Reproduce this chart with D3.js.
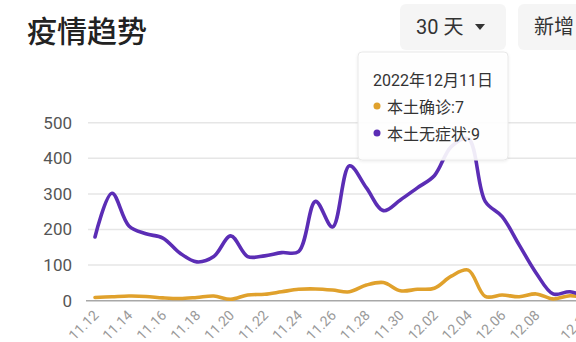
<!DOCTYPE html>
<html>
<head>
<meta charset="utf-8">
<script src="https://cdn.jsdelivr.net/npm/d3@7"></script>
<style>
  html, body { margin: 0; padding: 0; background: #fff; overflow: hidden; }
  svg { display: block; font-family: Roboto, "Noto Sans CJK SC", sans-serif; }
</style>
</head>
<body>
<svg id="chart" width="576" height="342"></svg>
<script>
// 30-day trend: local confirmed vs. local asymptomatic cases
const dates = ["11.12","11.13","11.14","11.15","11.16","11.17","11.18","11.19","11.20","11.21",
               "11.22","11.23","11.24","11.25","11.26","11.27","11.28","11.29","11.30","12.01",
               "12.02","12.03","12.04","12.05","12.06","12.07","12.08","12.09","12.10","12.11"];
const confirmed = [9, 11, 13, 12, 8, 6, 9, 13, 4, 16,
                   18, 25, 32, 33, 30, 25, 44, 51, 28, 32,
                   35, 69, 86, 12, 16, 11, 19, 5, 14, 7];
const asymptomatic = [179, 302, 210, 188, 176, 134, 109, 124, 182, 124,
                      126, 135, 138, 279, 207, 379, 317, 253, 283, 317,
                      351, 433, 455, 279, 236, 157, 78, 19, 25, 9];
const yTicks = [0, 100, 200, 300, 400, 500];
const xLabelDates = ["11.12","11.14","11.16","11.18","11.20","11.22","11.24","11.26","11.28",
                     "11.30","12.02","12.04","12.06","12.08","12.11"];
const series = [
  { name: "本土确诊", values: confirmed, color: "#e0a12c" },
  { name: "本土无症状", values: asymptomatic, color: "#5b2db5" }
];

const svg = d3.select("#chart");

const x = d3.scalePoint().domain(dates).range([95, 587]);
const y = d3.scaleLinear().domain([0, 500]).range([300.7, 122.7]);

// header: title and two selector buttons
svg.append("text")
  .attr("x", 27).attr("y", 42)
  .attr("font-size", 30).attr("font-weight", 500)
  .attr("fill", "#222")
  .attr("font-family", "'Noto Sans CJK SC', sans-serif")
  .text("疫情趋势");

svg.append("rect").attr("x", 400).attr("y", 4).attr("width", 106).attr("height", 46)
  .attr("rx", 6).attr("fill", "#f5f5f5");
svg.append("text").attr("x", 416).attr("y", 34)
  .attr("font-size", 20).attr("fill", "#333").text("30 天");
svg.append("path")
  .attr("d", d3.line()([[475, 24], [485, 24], [480, 30]]) + "Z")
  .attr("fill", "#333");

svg.append("rect").attr("x", 518).attr("y", 4).attr("width", 106).attr("height", 46)
  .attr("rx", 6).attr("fill", "#f5f5f5");
svg.append("text").attr("x", 534).attr("y", 34)
  .attr("font-size", 20).attr("fill", "#333")
  .attr("font-family", "'Noto Sans CJK SC', sans-serif").text("新增");

// y grid and labels
const grid = svg.append("g");
grid.selectAll("line.grid")
  .data(yTicks.filter(d => d > 0))
  .join("line")
  .attr("class", "grid")
  .attr("x1", 88).attr("x2", 600)
  .attr("y1", d => y(d)).attr("y2", d => y(d))
  .attr("stroke", "#e6e6e6").attr("stroke-width", 1.5);

grid.append("line")
  .attr("x1", 86).attr("x2", 600)
  .attr("y1", y(0)).attr("y2", y(0))
  .attr("stroke", "#a8a8a8").attr("stroke-width", 1.5);

grid.selectAll("text.ylab")
  .data(yTicks)
  .join("text")
  .attr("class", "ylab")
  .attr("x", 72).attr("y", d => y(d))
  .attr("dy", "0.35em")
  .attr("text-anchor", "end")
  .attr("font-size", 17).attr("fill", "#555")
  .text(d => d);

// rotated x labels
svg.append("g").selectAll("text")
  .data(xLabelDates)
  .join("text")
  .attr("transform", d => `translate(${x(d) + 1},${y(0) + 12}) rotate(-45)`)
  .attr("text-anchor", "end")
  .attr("dy", "0.35em")
  .attr("font-size", 14).attr("fill", "#999")
  .text(d => d);

// series lines
const line = d3.line()
  .x((d, i) => x(dates[i]))
  .y(d => y(d))
  .curve(d3.curveCatmullRom.alpha(0.5));

svg.append("g").selectAll("path")
  .data(series)
  .join("path")
  .attr("d", s => line(s.values))
  .attr("fill", "none")
  .attr("stroke", s => s.color)
  .attr("stroke-width", 3.6)
  .attr("stroke-linejoin", "round")
  .attr("stroke-linecap", "round");

// tooltip for the last day
const last = dates.length - 1;
const tip = svg.append("g");
const defs = svg.append("defs");
const f = defs.append("filter").attr("id", "shadow").attr("x", "-10%").attr("y", "-10%")
  .attr("width", "120%").attr("height", "130%");
f.append("feDropShadow").attr("dx", 0).attr("dy", 1).attr("stdDeviation", 1.5)
  .attr("flood-color", "#000").attr("flood-opacity", 0.08);

tip.append("rect")
  .attr("x", 358).attr("y", 52).attr("width", 150).attr("height", 108)
  .attr("rx", 4)
  .attr("fill", "rgba(255,255,255,0.9)")
  .attr("stroke", "#e8e8e8").attr("stroke-width", 1)
  .attr("filter", "url(#shadow)");

const [mm, dd] = dates[last].split(".");
tip.append("text")
  .attr("x", 373).attr("y", 86)
  .attr("font-size", 16).attr("fill", "#333")
  .text(`2022年${+mm}月${+dd}日`);

series.forEach((s, k) => {
  const cy = 106 + k * 27;
  tip.append("circle").attr("cx", 377).attr("cy", cy).attr("r", 3.5).attr("fill", s.color);
  tip.append("text")
    .attr("x", 387).attr("y", cy + 7)
    .attr("font-size", 16).attr("fill", "#333")
    .text(`${s.name}:${s.values[last]}`);
});
</script>
</body>
</html>
